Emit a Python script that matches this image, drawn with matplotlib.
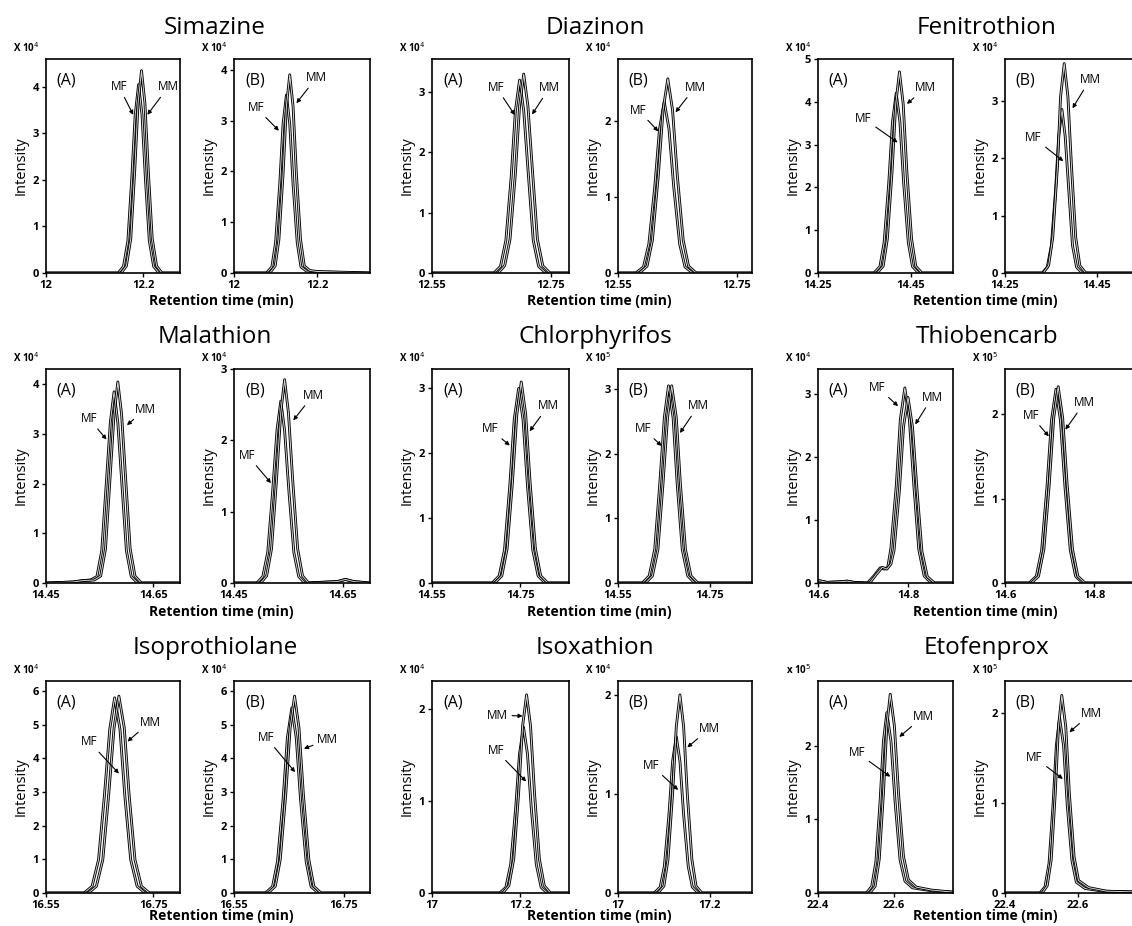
import matplotlib.pyplot as plt

plt.rcParams['font.family'] = ['Open Sans', 'DejaVu Sans']
plt.rcParams['mathtext.fontset'] = 'dejavusans'

compounds = ["Simazine", "Diazinon", "Fenitrothion",
             "Malathion", "Chlorphyrifos", "Thiobencarb",
             "Isoprothiolane", "Isoxathion", "Etofenprox"]

# retention time (min), intensity (x 10^n)
simazine_A_MF = [(12.0, 0), (12.148, 0), (12.159, 0.14), (12.168, 0.69), (12.176, 2.03), (12.183, 3.40), (12.190, 4.05),
                 (12.197, 3.40), (12.204, 2.03), (12.212, 0.69), (12.221, 0.14), (12.232, 0), (12.275, 0)]
simazine_A_MM = [(12.0, 0), (12.154, 0), (12.165, 0.15), (12.174, 0.74), (12.182, 2.18), (12.189, 3.65), (12.196, 4.35),
                 (12.203, 3.65), (12.210, 2.18), (12.218, 0.74), (12.227, 0.15), (12.238, 0), (12.275, 0)]
simazine_B_MF = [(12.0, 0), (12.078, 0), (12.091, 0.12), (12.100, 0.60), (12.110, 1.75), (12.118, 2.94), (12.126, 3.5),
                 (12.134, 2.94), (12.142, 1.75), (12.152, 0.60), (12.161, 0.12), (12.174, 0.04), (12.20, 0.02),
                 (12.33, 0)]
simazine_B_MM = [(12.0, 0), (12.086, 0), (12.099, 0.14), (12.108, 0.66), (12.118, 1.95), (12.126, 3.28), (12.134, 3.9),
                 (12.142, 3.28), (12.150, 1.95), (12.160, 0.66), (12.169, 0.14), (12.182, 0.05), (12.20, 0.03),
                 (12.33, 0)]

diazinon_A_MF = [(12.55, 0), (12.654, 0), (12.665, 0.11), (12.674, 0.54), (12.683, 1.6), (12.690, 2.69), (12.697, 3.2),
                 (12.704, 2.69), (12.712, 1.6), (12.720, 0.54), (12.729, 0.11), (12.741, 0), (12.78, 0)]
diazinon_A_MM = [(12.55, 0), (12.661, 0), (12.672, 0.12), (12.681, 0.56), (12.690, 1.65), (12.697, 2.77), (12.704, 3.3),
                 (12.711, 2.77), (12.719, 1.65), (12.727, 0.56), (12.736, 0.12), (12.748, 0), (12.78, 0)]
diazinon_B_MF = [(12.55, 0), (12.580, 0), (12.593, 0.08), (12.602, 0.38), (12.612, 1.13), (12.620, 1.89), (12.628, 2.25),
                 (12.636, 1.89), (12.644, 1.13), (12.654, 0.38), (12.663, 0.08), (12.676, 0), (12.78, 0)]
diazinon_B_MM = [(12.55, 0), (12.586, 0), (12.599, 0.09), (12.608, 0.43), (12.618, 1.28), (12.626, 2.14), (12.634, 2.55),
                 (12.642, 2.14), (12.650, 1.28), (12.660, 0.43), (12.669, 0.09), (12.682, 0), (12.78, 0)]

fenitrothion_A_MF = [(14.25, 0), (14.370, 0), (14.383, 0.15), (14.392, 0.71), (14.402, 2.1), (14.410, 3.53), (14.418, 4.2),
                     (14.426, 3.53), (14.434, 2.1), (14.444, 0.71), (14.453, 0.15), (14.466, 0), (14.55, 0)]
fenitrothion_A_MM = [(14.25, 0), (14.377, 0), (14.390, 0.16), (14.399, 0.80), (14.409, 2.35), (14.417, 3.95), (14.425, 4.7),
                     (14.433, 3.95), (14.441, 2.35), (14.451, 0.80), (14.460, 0.16), (14.473, 0), (14.55, 0)]
fenitrothion_B_MF = [(14.25, 0), (14.331, 0), (14.342, 0.10), (14.351, 0.48), (14.360, 1.43), (14.367, 2.39), (14.374, 2.85),
                     (14.381, 2.39), (14.389, 1.43), (14.397, 0.48), (14.406, 0.10), (14.418, 0), (14.55, 0)]
fenitrothion_B_MM = [(14.25, 0), (14.333, 0), (14.345, 0.13), (14.354, 0.62), (14.364, 1.83), (14.371, 3.07), (14.379, 3.65),
                     (14.387, 3.07), (14.395, 1.83), (14.404, 0.62), (14.413, 0.13), (14.426, 0), (14.55, 0)]

malathion_A_MF = [(14.45, 0), (14.50, 0.02), (14.52, 0.05), (14.533, 0.06), (14.545, 0.13), (14.554, 0.65), (14.562, 1.93),
                  (14.570, 3.23), (14.577, 3.85), (14.584, 3.23), (14.592, 1.93), (14.600, 0.65), (14.609, 0.13), (14.621, 0),
                  (14.70, 0)]
malathion_A_MM = [(14.45, 0), (14.50, 0.02), (14.52, 0.05), (14.540, 0.06), (14.552, 0.14), (14.561, 0.69), (14.569, 2.03),
                  (14.577, 3.40), (14.584, 4.05), (14.591, 3.40), (14.599, 2.03), (14.607, 0.69), (14.616, 0.14), (14.628, 0),
                  (14.70, 0)]
malathion_B_MF = [(14.45, 0), (14.492, 0), (14.503, 0.09), (14.512, 0.43), (14.521, 1.28), (14.529, 2.14), (14.536, 2.55),
                  (14.543, 2.14), (14.551, 1.28), (14.560, 0.43), (14.569, 0.09), (14.580, 0), (14.64, 0.02), (14.655, 0.05),
                  (14.67, 0.02), (14.70, 0)]
malathion_B_MM = [(14.45, 0), (14.499, 0), (14.510, 0.10), (14.519, 0.48), (14.528, 1.43), (14.536, 2.39), (14.543, 2.85),
                  (14.550, 2.39), (14.558, 1.43), (14.567, 0.48), (14.576, 0.10), (14.587, 0), (14.64, 0.02), (14.655, 0.05),
                  (14.67, 0.02), (14.70, 0)]

chlorphyrifos_A_MF = [(14.55, 0), (14.686, 0), (14.702, 0.11), (14.714, 0.51), (14.726, 1.5), (14.736, 2.52), (14.746, 3.0),
                      (14.756, 2.52), (14.766, 1.5), (14.778, 0.51), (14.790, 0.11), (14.806, 0), (14.86, 0)]
chlorphyrifos_A_MM = [(14.55, 0), (14.692, 0), (14.708, 0.11), (14.720, 0.53), (14.732, 1.55), (14.742, 2.60), (14.752, 3.1),
                      (14.762, 2.60), (14.772, 1.55), (14.784, 0.53), (14.796, 0.11), (14.812, 0), (14.86, 0)]
chlorphyrifos_B_MF = [(14.55, 0), (14.603, 0), (14.618, 0.11), (14.630, 0.52), (14.641, 1.53), (14.651, 2.56), (14.660, 3.05),
                      (14.670, 2.56), (14.679, 1.53), (14.690, 0.52), (14.702, 0.11), (14.717, 0), (14.85, 0)]
chlorphyrifos_B_MM = [(14.55, 0), (14.610, 0), (14.625, 0.11), (14.637, 0.52), (14.648, 1.53), (14.658, 2.56), (14.667, 3.05),
                      (14.677, 2.56), (14.686, 1.53), (14.697, 0.52), (14.709, 0.11), (14.724, 0), (14.85, 0)]

thiobencarb_A_MF = [(14.6, 0.04), (14.62, 0.01), (14.65, 0.02), (14.665, 0.03), (14.68, 0.01), (14.71, 0), (14.725, 0.12),
                    (14.738, 0.24), (14.748, 0.22), (14.755, 0.25), (14.762, 0.55), (14.774, 1.55), (14.783, 2.6),
                    (14.793, 3.1), (14.803, 2.6), (14.813, 1.55), (14.824, 0.53), (14.836, 0.11), (14.852, 0), (14.9, 0)]
thiobencarb_A_MM = [(14.6, 0.04), (14.62, 0.01), (14.65, 0.02), (14.665, 0.03), (14.68, 0.01), (14.715, 0), (14.73, 0.14),
                    (14.743, 0.25), (14.753, 0.22), (14.762, 0.30), (14.769, 0.52), (14.781, 1.48), (14.790, 2.48),
                    (14.800, 2.95), (14.810, 2.48), (14.820, 1.48), (14.831, 0.50), (14.843, 0.10), (14.859, 0), (14.9, 0)]
thiobencarb_B_MF = [(14.6, 0), (14.654, 0), (14.670, 0.08), (14.682, 0.39), (14.694, 1.15), (14.704, 1.93), (14.714, 2.3),
                    (14.724, 1.93), (14.734, 1.15), (14.746, 0.39), (14.758, 0.08), (14.774, 0), (14.91, 0)]
thiobencarb_B_MM = [(14.6, 0), (14.659, 0), (14.675, 0.08), (14.687, 0.40), (14.699, 1.17), (14.709, 1.96), (14.719, 2.33),
                    (14.729, 1.96), (14.739, 1.17), (14.751, 0.40), (14.763, 0.08), (14.779, 0), (14.91, 0)]

isoprothiolane_A_MF = [(16.55, 0), (16.621, 0), (16.636, 0.20), (16.648, 0.99), (16.659, 2.9), (16.669, 4.87), (16.678, 5.8),
                       (16.688, 4.87), (16.697, 2.9), (16.708, 0.99), (16.720, 0.20), (16.735, 0), (16.80, 0)]
isoprothiolane_A_MM = [(16.55, 0), (16.629, 0), (16.644, 0.20), (16.656, 0.99), (16.667, 2.93), (16.677, 4.91), (16.686, 5.85),
                       (16.696, 4.91), (16.705, 2.93), (16.716, 0.99), (16.728, 0.20), (16.743, 0), (16.80, 0)]
isoprothiolane_B_MF = [(16.55, 0), (16.607, 0), (16.620, 0.19), (16.629, 0.94), (16.639, 2.75), (16.647, 4.62), (16.655, 5.5),
                       (16.663, 4.62), (16.671, 2.75), (16.681, 0.94), (16.690, 0.19), (16.703, 0), (16.80, 0)]
isoprothiolane_B_MM = [(16.55, 0), (16.612, 0), (16.625, 0.20), (16.634, 0.99), (16.644, 2.93), (16.652, 4.91), (16.660, 5.85),
                       (16.668, 4.91), (16.676, 2.93), (16.686, 0.99), (16.695, 0.20), (16.708, 0), (16.80, 0)]

isoxathion_A_MF = [(17.0, 0), (17.153, 0), (17.167, 0.06), (17.178, 0.31), (17.189, 0.9), (17.198, 1.51), (17.207, 1.8),
                   (17.216, 1.51), (17.225, 0.9), (17.236, 0.31), (17.247, 0.06), (17.261, 0), (17.31, 0)]
isoxathion_A_MM = [(17.0, 0), (17.160, 0), (17.174, 0.08), (17.185, 0.37), (17.196, 1.08), (17.205, 1.81), (17.214, 2.15),
                   (17.223, 1.81), (17.232, 1.08), (17.243, 0.37), (17.254, 0.08), (17.268, 0), (17.31, 0)]
isoxathion_B_MF = [(17.0, 0), (17.079, 0), (17.092, 0.06), (17.101, 0.27), (17.111, 0.79), (17.119, 1.33), (17.127, 1.58),
                   (17.135, 1.33), (17.143, 0.79), (17.153, 0.27), (17.162, 0.06), (17.175, 0), (17.30, 0)]
isoxathion_B_MM = [(17.0, 0), (17.087, 0), (17.100, 0.07), (17.109, 0.34), (17.119, 1.0), (17.127, 1.68), (17.135, 2.0),
                   (17.143, 1.68), (17.151, 1.0), (17.161, 0.34), (17.170, 0.07), (17.183, 0), (17.30, 0)]

etofenprox_A_MF = [(22.4, 0), (22.528, 0), (22.542, 0.09), (22.553, 0.42), (22.564, 1.23), (22.573, 2.06), (22.582, 2.45),
                   (22.593, 2.06), (22.604, 1.23), (22.617, 0.45), (22.630, 0.16), (22.65, 0.07), (22.70, 0.03), (22.76, 0.01)]
etofenprox_A_MM = [(22.4, 0), (22.537, 0), (22.551, 0.09), (22.562, 0.46), (22.573, 1.35), (22.582, 2.27), (22.591, 2.7),
                   (22.602, 2.27), (22.613, 1.35), (22.626, 0.50), (22.639, 0.18), (22.66, 0.08), (22.70, 0.04), (22.76, 0.01)]
etofenprox_B_MF = [(22.4, 0), (22.496, 0), (22.510, 0.07), (22.521, 0.33), (22.532, 0.98), (22.541, 1.64), (22.550, 1.95),
                   (22.561, 1.64), (22.571, 0.98), (22.584, 0.36), (22.596, 0.12), (22.62, 0.05), (22.67, 0.02), (22.78, 0.01)]
etofenprox_B_MM = [(22.4, 0), (22.502, 0), (22.516, 0.08), (22.527, 0.37), (22.538, 1.1), (22.547, 1.85), (22.556, 2.2),
                   (22.567, 1.85), (22.577, 1.1), (22.590, 0.40), (22.602, 0.14), (22.63, 0.06), (22.68, 0.02), (22.78, 0.01)]

traces = [
    (simazine_A_MF, simazine_A_MM, simazine_B_MF, simazine_B_MM),
    (diazinon_A_MF, diazinon_A_MM, diazinon_B_MF, diazinon_B_MM),
    (fenitrothion_A_MF, fenitrothion_A_MM, fenitrothion_B_MF, fenitrothion_B_MM),
    (malathion_A_MF, malathion_A_MM, malathion_B_MF, malathion_B_MM),
    (chlorphyrifos_A_MF, chlorphyrifos_A_MM, chlorphyrifos_B_MF, chlorphyrifos_B_MM),
    (thiobencarb_A_MF, thiobencarb_A_MM, thiobencarb_B_MF, thiobencarb_B_MM),
    (isoprothiolane_A_MF, isoprothiolane_A_MM, isoprothiolane_B_MF, isoprothiolane_B_MM),
    (isoxathion_A_MF, isoxathion_A_MM, isoxathion_B_MF, isoxathion_B_MM),
    (etofenprox_A_MF, etofenprox_A_MM, etofenprox_B_MF, etofenprox_B_MM),
]

x_ticks = [(12, 12.2), (12.55, 12.75), (14.25, 14.45), (14.45, 14.65), (14.55, 14.75),
           (14.6, 14.8), (16.55, 16.75), (17, 17.2), (22.4, 22.6)]
x_tick_labels = [("12", "12.2"), ("12.55", "12.75"), ("14.25", "14.45"), ("14.45", "14.65"), ("14.55", "14.75"),
                 ("14.6", "14.8"), ("16.55", "16.75"), ("17", "17.2"), ("22.4", "22.6")]
xmax_a = [12.275, 12.78, 14.54, 14.70, 14.86, 14.90, 16.80, 17.31, 22.757]
xmax_b = [12.327, 12.776, 14.544, 14.70, 14.842, 14.902, 16.797, 17.292, 22.771]
ymax_a = [4.6, 3.55, 5.0, 4.31, 3.30, 3.40, 6.30, 2.30, 2.88]
ymax_b = [4.21, 2.81, 3.73, 3.0, 3.31, 2.54, 6.30, 2.14, 2.36]
mult_a = ["X 10$^4$"] * 8 + ["x 10$^5$"]
mult_b = ["X 10$^4$"] * 4 + ["X 10$^5$", "X 10$^5$", "X 10$^4$", "X 10$^4$", "X 10$^5$"]

# label position -> arrow tip, per panel: (MF text, MF tip, MM text, MM tip)
arrows_a = [
    ((12.150, 4.0), (12.179, 3.40), (12.251, 4.0), (12.208, 3.40)),
    ((12.658, 3.08), (12.689, 2.62), (12.747, 3.07), (12.718, 2.63)),
    ((14.348, 3.61), (14.421, 3.05), (14.481, 4.33), (14.441, 3.95)),
    ((14.530, 3.31), (14.563, 2.89), (14.636, 3.50), (14.601, 3.18)),
    ((14.681, 2.38), (14.726, 2.12), (14.813, 2.73), (14.771, 2.34)),
    ((14.732, 3.11), (14.778, 2.81), (14.854, 2.95), (14.816, 2.52)),
    ((16.631, 4.49), (16.686, 3.55), (16.744, 5.08), (16.702, 4.50)),
    ((17.144, 1.55), (17.213, 1.21), (17.148, 1.93), (17.205, 1.92)),
    ((22.503, 1.91), (22.591, 1.58), (22.679, 2.40), (22.615, 2.12)),
]
arrows_b = [
    ((12.052, 3.26), (12.108, 2.80), (12.198, 3.84), (12.150, 3.34)),
    ((12.584, 2.14), (12.618, 1.86), (12.680, 2.44), (12.647, 2.11)),
    ((14.312, 2.36), (14.377, 1.95), (14.435, 3.37), (14.397, 2.87)),
    ((14.475, 1.79), (14.518, 1.40), (14.595, 2.63), (14.559, 2.28)),
    ((14.605, 2.39), (14.645, 2.12), (14.725, 2.74), (14.685, 2.32)),
    ((14.658, 1.99), (14.698, 1.74), (14.778, 2.14), (14.735, 1.82)),
    ((16.608, 4.63), (16.661, 3.59), (16.720, 4.55), (16.677, 4.29)),
    ((17.073, 1.29), (17.131, 1.04), (17.200, 1.66), (17.151, 1.47)),
    ((22.481, 1.51), (22.559, 1.27), (22.637, 2.0), (22.577, 1.79)),
]

W, H = 1132, 926
row_top = [59, 369, 681]
row_h = [214, 214, 212]
col_a = [(46, 134), (432, 137), (818, 135)]
col_b = [(234, 136), (618, 134), (1005, 135)]
title_x = [215, 595, 987]
xlabel_x = [221, 599, 985]
title_y = [28, 337, 648]
xlabel_y = [301, 612, 916]

fig = plt.figure(figsize=(W / 100, H / 100), dpi=100)


def draw_panel(ax, mf, mm, xlim, ylim, ticks, tick_labels, mult, letter, arr):
    for tr in (mf, mm):
        t = [p[0] for p in tr]
        y = [p[1] for p in tr]
        ax.plot(t, y, color="black", lw=2.0)
        ax.plot(t, y, color="#d6d6d6", lw=0.7)
    ax.set_xlim(xlim)
    ax.set_ylim(0, ylim)
    ax.set_xticks(ticks)
    ax.set_xticklabels(tick_labels)
    ax.set_yticks(range(0, int(ylim + 0.001) + 1))
    ax.tick_params(direction="out", length=3, width=1, labelsize=8, pad=2)
    for lab in ax.get_xticklabels() + ax.get_yticklabels():
        lab.set_fontweight("bold")
    for s in ax.spines.values():
        s.set_linewidth(1.2)
    ax.set_ylabel("Intensity", fontsize=10.5, labelpad=3)
    ax.text(0.08, 0.9, letter, transform=ax.transAxes, fontsize=11.5, ha="left", va="center")
    ax.text(-0.05, 1.02, mult, transform=ax.transAxes, fontsize=7, fontweight="bold",
            ha="right", va="bottom")
    mf_txt, mf_tip, mm_txt, mm_tip = arr
    for name, txt, tip in (("MF", mf_txt, mf_tip), ("MM", mm_txt, mm_tip)):
        ax.annotate(name, xy=tip, xytext=txt, fontsize=8.5, ha="center", va="center",
                    arrowprops=dict(arrowstyle="-|>", lw=0.8, color="black",
                                    mutation_scale=6, shrinkA=1, shrinkB=0))


for i, name in enumerate(compounds):
    r, c = divmod(i, 3)
    bottom = 1 - (row_top[r] + row_h[r]) / H
    h = row_h[r] / H
    ax_a = fig.add_axes([col_a[c][0] / W, bottom, col_a[c][1] / W, h])
    ax_b = fig.add_axes([col_b[c][0] / W, bottom, col_b[c][1] / W, h])
    a_mf, a_mm, b_mf, b_mm = traces[i]
    draw_panel(ax_a, a_mf, a_mm, (x_ticks[i][0], xmax_a[i]), ymax_a[i], x_ticks[i], x_tick_labels[i],
               mult_a[i], "(A)", arrows_a[i])
    draw_panel(ax_b, b_mf, b_mm, (x_ticks[i][0], xmax_b[i]), ymax_b[i], x_ticks[i], x_tick_labels[i],
               mult_b[i], "(B)", arrows_b[i])
    fig.text(title_x[c] / W, 1 - title_y[r] / H, name, fontsize=17.5, ha="center", va="center")
    fig.text(xlabel_x[c] / W, 1 - xlabel_y[r] / H, "Retention time (min)", fontsize=10,
             fontweight="bold", ha="center", va="center")

fig.savefig("out.png", dpi=100)
